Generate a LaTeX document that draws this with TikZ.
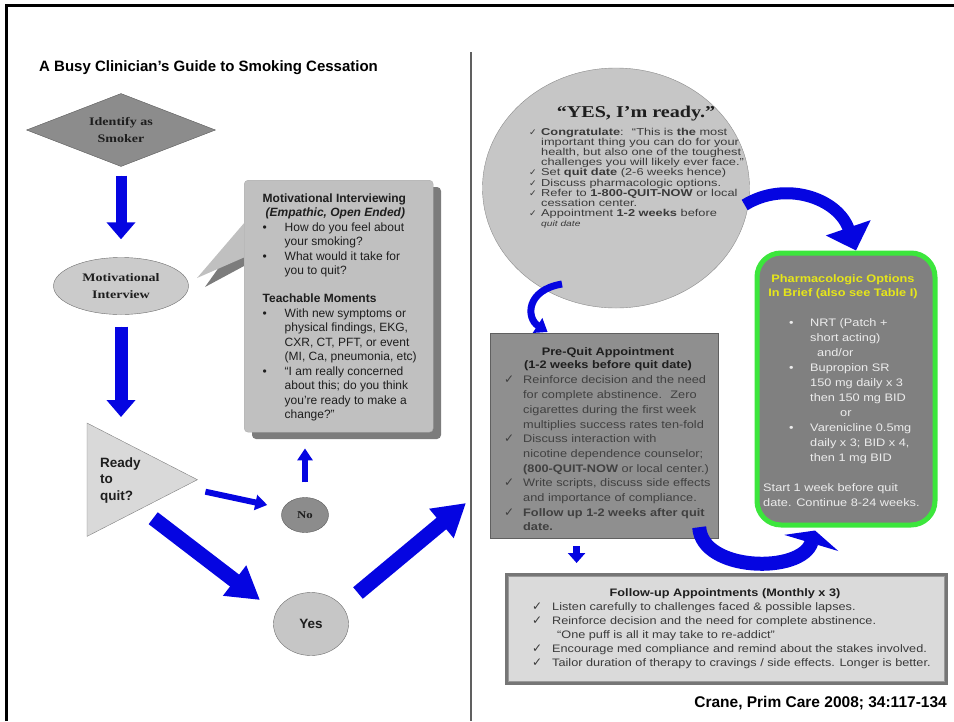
\documentclass[tikz,border=0pt]{standalone}
\usepackage{fontspec}
\setmainfont{Liberation Sans}
\newfontfamily\serifw[FakeStretch=1.22]{Liberation Serif}
\newfontfamily\sansw[FakeStretch=1.17]{Liberation Sans}
\newfontfamily\sanswc[FakeStretch=1.28]{Liberation Sans}
\newfontfamily\symf{DejaVu Sans}
\usetikzlibrary{shapes.geometric,arrows.meta}

\definecolor{flowblue}{RGB}{5,5,225}
\definecolor{darkfill}{HTML}{8C8C8C}
\definecolor{darkedge}{HTML}{5A5A5A}
\definecolor{lightfill}{HTML}{CBCBCB}
\definecolor{lightedge}{HTML}{6E6E6E}
\definecolor{trifill}{HTML}{D9D9D9}
\definecolor{calfill}{HTML}{C0C0C0}
\definecolor{calshadow}{HTML}{7C7C7C}
\definecolor{circfill}{HTML}{C6C6C6}
\definecolor{circedge}{HTML}{8C8C8C}
\definecolor{pqfill}{HTML}{8F8F8F}
\definecolor{pqedge}{HTML}{606060}
\definecolor{gfill}{HTML}{808080}
\definecolor{gedge}{HTML}{3CE63C}
\definecolor{gtitle}{HTML}{E6E619}
\definecolor{gtext}{HTML}{ECECEC}
\definecolor{fufill}{HTML}{DADADA}
\definecolor{fuedge}{HTML}{767676}
\definecolor{inktext}{HTML}{1E1E1E}
\definecolor{softtext}{HTML}{3A3A3A}

\newcommand{\fsz}[2]{\fontsize{#1}{#2}\selectfont}
\newcommand{\hang}[2]{\makebox[#1][l]{#2}}
% check mark in a given size
\newcommand{\chkat}[1]{{\symf\fontsize{#1}{#1}\selectfont ✓}}
\newcommand{\chk}{\chkat{12}}
\newcommand{\chks}{\chkat{9}}

\begin{document}
\begin{tikzpicture}[x=1pt,y=-1pt,
  bluebase/.style={draw=flowblue, fill=flowblue},
  arrowmid/.style={bluebase, line width=11pt, -{Triangle[width=28pt,length=17pt]}},
  arrowthin/.style={bluebase, line width=6pt, -{Triangle[width=15pt,length=12pt]}},
  arrowsmall/.style={bluebase, line width=7pt, -{Triangle[width=17pt,length=10pt]}},
  arrowbig/.style={bluebase, line width=15pt, -{Triangle[width=36pt,length=32pt]}},
  curveA/.style={bluebase, fill=none, line width=12pt, -{Triangle[width=46pt,length=24pt,fill=flowblue]}},
  curveB/.style={bluebase, fill=none, line width=7pt, -{Triangle[width=17pt,length=12pt,fill=flowblue]}},
  curveC/.style={bluebase, fill=none, line width=14pt, -{Triangle[width=56pt,length=13pt,fill=flowblue]}},
  serifbox/.style={font=\serifw\bfseries\fsz{11.5}{17}, text=inktext, align=center, inner sep=0},
  textblock/.style={align=left, inner sep=0, anchor=north west},
]
\useasboundingbox (0,0) rectangle (954,721);

% page frame and column divider
\draw[line width=3pt] (6,721) -- (6,5) -- (954,5);
\draw[gray!75!black, line width=1.3pt] (471,52) -- (471,721);

% heading
\node[font=\bfseries\fsz{15}{17}, anchor=west, inner sep=0] (title) at (39,68)
  {A Busy Clinician’s Guide to Smoking Cessation};

% ---------- left column: decision flow ----------
\node[diamond, aspect=2.5, minimum width=189pt, minimum height=73pt,
      fill=darkfill, draw=darkedge, serifbox] (idn) at (121,130) {Identify as\\Smoker};

\node[ellipse, minimum width=135pt, minimum height=57pt,
      fill=lightfill, draw=lightedge, serifbox] (mi) at (121,286) {Motivational\\Interview};

\node[minimum width=110pt, minimum height=113pt, inner sep=0, anchor=north west] (rdy) at (87,423) {};
\filldraw[fill=trifill, draw=gray] (rdy.north west) -- (rdy.east) -- (rdy.south west) -- cycle;
\node[font=\bfseries\fsz{13.5}{16.5}, align=left, anchor=west, inner sep=0, text=inktext] (rdytext) at (100,480.5)
  {Ready\\to\\quit?};

\node[ellipse, minimum width=47pt, minimum height=35pt, inner sep=0,
      fill=darkfill, draw=darkedge, font=\serifw\bfseries\fsz{10.5}{11}, text=inktext] (no) at (305,515) {No};

\node[ellipse, minimum width=75pt, minimum height=63pt, inner sep=0,
      fill=circfill, draw=lightedge, font=\bfseries\fsz{13.5}{15}, text=inktext] (yes) at (311,624) {Yes};

% speech box with its shadow and pointer
\fill[calshadow, rounded corners=4pt] (252,187) rectangle (441,439);
\fill[calshadow] (244,232) -- (205,287) -- (244,266) -- cycle;
\fill[calfill] (245,222) -- (197,278) -- (245,257) -- cycle;
\node[fill=calfill, draw=calfill!90!black, rounded corners=4pt, minimum width=189pt, minimum height=252pt,
      inner sep=0, anchor=north west] (mib) at (244,180) {};
\node[textblock, font=\fsz{12}{14.5}, text=inktext] (mitext) at (262.5,193.4) {%
\textbf{Motivational Interviewing}\\
\hspace*{3pt}\textbf{\textit{(Empathic, Open Ended)}}\\
\hang{22pt}{\textbullet}How do you feel about\\
\hang{22pt}{}your smoking?\\
\hang{22pt}{\textbullet}What would it take for\\
\hang{22pt}{}you to quit?\\[13.5pt]
\textbf{Teachable Moments}\\
\hang{22pt}{\textbullet}With new symptoms or\\
\hang{22pt}{}physical findings, EKG,\\
\hang{22pt}{}CXR, CT, PFT, or event\\
\hang{22pt}{}(MI, Ca, pneumonia, etc)\\
\hang{22pt}{\textbullet}“I am really concerned\\
\hang{22pt}{}about this; do you think\\
\hang{22pt}{}you’re ready to make a\\
\hang{22pt}{}change?”};

\coordinate (rightlink) at (466,503);

% left column connectors
\draw[arrowmid, shorten <=9pt, shorten >=18pt] (idn.south) -- (mi.north);
\draw[arrowmid, line width=13pt, shorten <=12pt, shorten >=6pt] (mi.south) -- (mi.south |- rdy.north);
\draw[arrowthin] ([shift={(8,12)}]rdy.east) -- ([shift={(-14,-10)}]no.west);
\draw[arrowthin, shorten <=15pt, shorten >=16pt] (no.north) -- (no.north |- mib.south);
\draw[arrowbig] ([shift={(11,38.5)}]rdy.center) -- ([shift={(-51,-24)}]yes.center);
\draw[arrowbig] ([shift={(47,-31)}]yes.center) -- (rightlink);

% ---------- right column ----------
\node[ellipse, minimum width=267pt, minimum height=240pt, inner sep=0,
      fill=circfill, draw=circedge] (yes2) at (616,188) {};
\node[font=\serifw\bfseries\fsz{16.5}{18}, anchor=base, inner sep=0, text=inktext] (yestitle) at (636,117.5)
  {“YES, I’m ready.”};
\node[textblock, font=\sanswc\fsz{10}{10.2}, text=softtext] (yestext) at (529,127.6) {%
\hang{12pt}{\chks}\textbf{Congratulate}:~ “This is \textbf{the} most\\
\hang{12pt}{}important thing you can do for your\\
\hang{12pt}{}health, but also one of the toughest\\
\hang{12pt}{}challenges you will likely ever face.”\\
\hang{12pt}{\chks}Set \textbf{quit date} (2-6 weeks hence)\\
\hang{12pt}{\chks}Discuss pharmacologic options.\\
\hang{12pt}{\chks}Refer to \textbf{1-800-QUIT-NOW} or local\\
\hang{12pt}{}cessation center.\\
\hang{12pt}{\chks}Appointment \textbf{1-2 weeks} before\\
\hang{12pt}{}{\itshape\fsz{8}{10.2}quit date}};

% pre-quit appointment
\node[fill=pqfill, draw=pqedge, line width=1.2pt, minimum width=228pt, minimum height=205pt,
      inner sep=0, anchor=north west] (pq) at (490,333) {};
\node[font=\sansw\bfseries\fsz{10.9}{13}, align=center, anchor=north, inner sep=0, text=inktext] (pqtitle) at (608,347.8)
  {Pre-Quit Appointment\\(1-2 weeks before quit date)};
\node[textblock, font=\sansw\fsz{10.9}{14.7}, text=inktext!85!white] (pqtext) at (504,375.8) {%
\hang{19pt}{\chk}Reinforce decision and the need\\
\hang{19pt}{}for complete abstinence.~ Zero\\
\hang{19pt}{}cigarettes during the first week\\
\hang{19pt}{}multiplies success rates ten-fold\\
\hang{19pt}{\chk}Discuss interaction with\\
\hang{19pt}{}nicotine dependence counselor;\\
\hang{19pt}{}\textbf{(800-QUIT-NOW} or local center.)\\
\hang{19pt}{\chk}Write scripts, discuss side effects\\
\hang{19pt}{}and importance of compliance.\\
\hang{19pt}{\chk}\textbf{Follow up 1-2 weeks after quit}\\
\hang{19pt}{}\textbf{date.}};

% pharmacologic options
\node[fill=gfill, draw=gedge, line width=5pt, rounded corners=24pt, minimum width=178pt, minimum height=272pt,
      inner sep=0, anchor=north west] (gbox) at (754.5,250.5) {};
\node[font=\sansw\bfseries\fsz{10.9}{14}, align=center, anchor=north, inner sep=0, text=gtitle] (gboxtitle) at (843,274.8)
  {Pharmacologic Options\\In Brief (also see Table I)};
\node[textblock, font=\sansw\fsz{10.9}{15}, text=gtext] (gboxtext) at (789,318.8) {%
\hang{21pt}{\textbullet}NRT (Patch +\\
\hang{21pt}{}short acting)\\
\hang{28pt}{}and/or\\
\hang{21pt}{\textbullet}Bupropion SR\\
\hang{21pt}{}150 mg daily x 3\\
\hang{21pt}{}then 150 mg BID\\
\hang{51pt}{}or\\
\hang{21pt}{\textbullet}Varenicline 0.5mg\\
\hang{21pt}{}daily x 3; BID x 4,\\
\hang{21pt}{}then 1 mg BID};
\node[textblock, font=\sansw\fsz{10.9}{15}, text=gtext] (gboxnote) at (763,483.8)
  {Start 1 week before quit\\date. Continue 8-24 weeks.};

% follow-up appointments
\node[fill=fufill, draw=fuedge, line width=2.5pt, minimum width=440pt, minimum height=109pt,
      inner sep=0, anchor=north west] (fu) at (505,573) {};
\draw[gray!80, line width=0.8pt] ([shift={(3.5,3.5)}]fu.north west) rectangle ([shift={(-3.5,-3.5)}]fu.south east);
\node[font=\sansw\bfseries\fsz{10.85}{14}, anchor=north, inner sep=0, text=inktext] (futitle) at (725,588.8)
  {Follow-up Appointments (Monthly x 3)};
\node[textblock, font=\sansw\fsz{10.85}{14}, text=softtext] (futext) at (532,602.9) {%
\hang{20pt}{\chk}Listen carefully to challenges faced \& possible lapses.\\
\hang{20pt}{\chk}Reinforce decision and the need for complete abstinence.\\
\hang{25pt}{}“One puff is all it may take to re-addict”\\
\hang{20pt}{\chk}Encourage med compliance and remind about the stakes involved.\\
\hang{20pt}{\chk}Tailor duration of therapy to cravings / side effects. Longer is better.};

% right column connectors
\draw[curveA] ([shift={(-5,17)}]yes2.east) .. controls (785,180) and (838,198) .. ([shift={(10,0)}]gbox.north);
\draw[curveB] ([shift={(-54,96)}]yes2.center) .. controls (526,290) and (526,318) .. ([shift={(-57,-1)}]pq.north);
\draw[curveC] ([shift={(-20,-12)}]pq.south east) .. controls (702,572) and (802,574) .. ([shift={(-31,3)}]gbox.south);
\draw[arrowsmall, shorten <=7pt, shorten >=10pt] ([shift={(-28,0)}]pq.south) -- ([shift={(-28,0)}]pq.south |- fu.north);

% source
\node[font=\bfseries\fsz{15.5}{17}, anchor=east, inner sep=0] (cite) at (947,703)
  {Crane, Prim Care 2008; 34:117-134};
\end{tikzpicture}
\end{document}
